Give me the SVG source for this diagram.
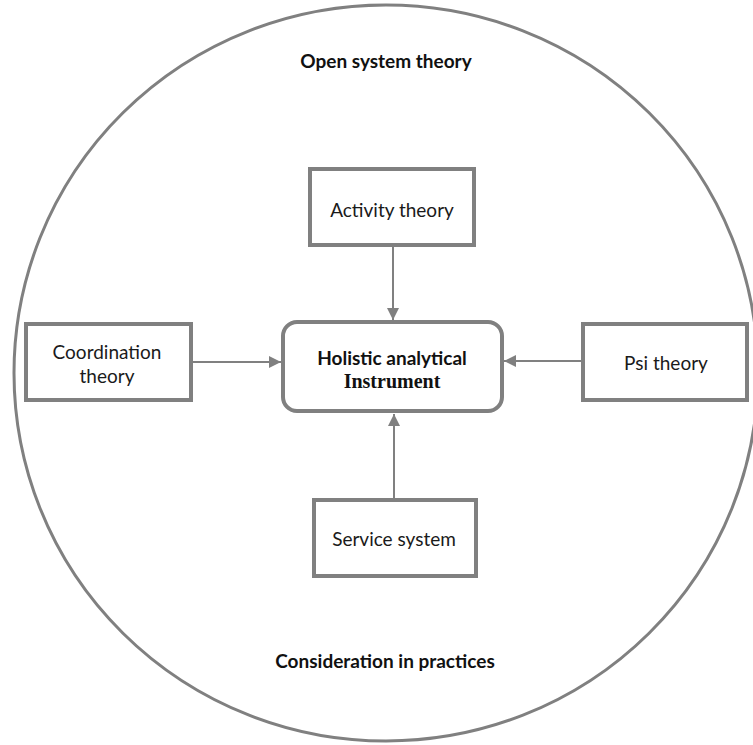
<svg xmlns="http://www.w3.org/2000/svg" width="753" height="745" viewBox="0 0 753 745">
  <style>
    .box { fill: #ffffff; stroke: #808080; stroke-width: 4; }
    .hub { fill: #ffffff; stroke: #808080; stroke-width: 4; }
    .ring { fill: none; stroke: #808080; stroke-width: 3; }
    .link { stroke: #808080; stroke-width: 2; fill: none; marker-end: url(#head); }
    .lbl { font-family: Lato, "Open Sans", "Liberation Sans", sans-serif; font-size: 19px; fill: #1a1a1a; text-anchor: middle; dominant-baseline: central; }
    .bold { font-family: Lato, "Open Sans", "Liberation Sans", sans-serif; font-size: 19px; font-weight: bold; fill: #111111; text-anchor: middle; dominant-baseline: central; }
    .serif { font-family: "Liberation Serif", "Times New Roman", serif; font-size: 20px; font-weight: bold; fill: #111111; text-anchor: middle; dominant-baseline: central; }
  </style>
  <defs>
    <marker id="head" viewBox="0 0 12 12" refX="12" refY="6" markerWidth="12" markerHeight="12" markerUnits="userSpaceOnUse" orient="auto">
      <path d="M0,0 L12,6 L0,12 Z" fill="#808080"/>
    </marker>
  </defs>

  <rect width="753" height="745" fill="#ffffff"/>

  <!-- outer boundary -->
  <g id="open-system">
    <ellipse class="ring" cx="386" cy="373" rx="372" ry="368"/>
    <text class="bold" x="386" y="60">Open system theory</text>
    <text class="bold" x="385" y="660">Consideration in practices</text>
  </g>

  <!-- connectors -->
  <g id="connectors">
    <line class="link" x1="393" y1="245" x2="393" y2="320"/>
    <line class="link" x1="191" y1="362" x2="281" y2="362"/>
    <line class="link" x1="582" y1="361" x2="504" y2="361"/>
    <line class="link" x1="394" y1="500" x2="394" y2="414"/>
  </g>

  <g id="hub">
    <rect class="hub" x="283" y="322" width="219" height="89" rx="14" ry="14"/>
    <text class="bold" x="392" y="357">Holistic analytical</text>
    <text class="serif" x="392" y="381">Instrument</text>
  </g>

  <g id="activity">
    <rect class="box" x="310" y="169" width="164" height="76"/>
    <text class="lbl" x="392" y="209">Activity theory</text>
  </g>

  <g id="coordination">
    <rect class="box" x="26" y="324" width="165" height="76"/>
    <text class="lbl" x="107" y="351">Coordination</text>
    <text class="lbl" x="107" y="375">theory</text>
  </g>

  <g id="psi">
    <rect class="box" x="583" y="324" width="164" height="76"/>
    <text class="lbl" x="666" y="362">Psi theory</text>
  </g>

  <g id="service">
    <rect class="box" x="314" y="500" width="162" height="76"/>
    <text class="lbl" x="394" y="538">Service system</text>
  </g>
</svg>
